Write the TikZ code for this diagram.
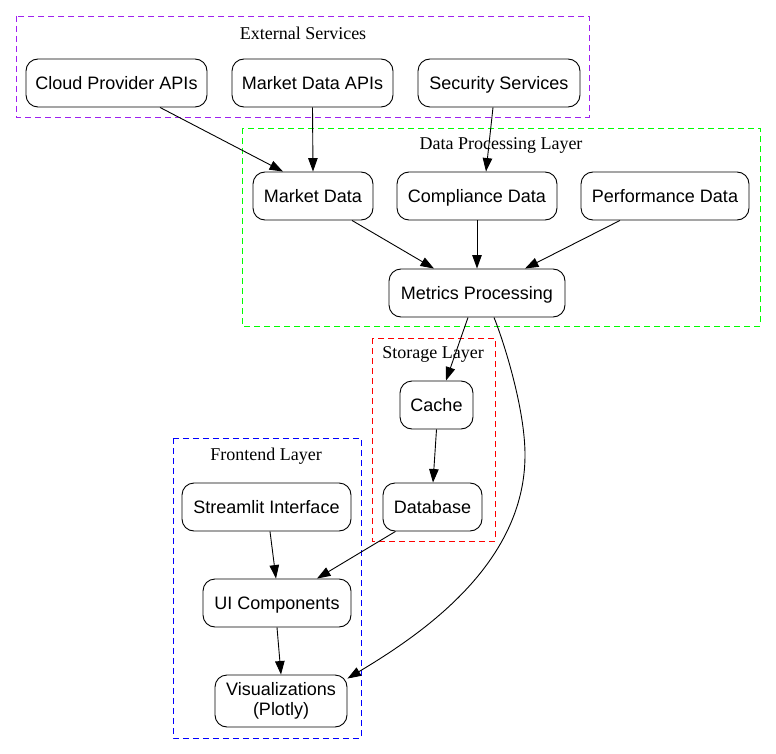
\documentclass[tikz,border=0pt]{standalone}
\usepackage{fontspec}
\setmainfont{Liberation Serif}
\newfontfamily\nodefont{Liberation Sans}
\usetikzlibrary{arrows.meta,calc}
\definecolor{gvpurple}{HTML}{A020F0}
\definecolor{gvgreen}{HTML}{00FF00}
\definecolor{gvred}{HTML}{FF0000}
\definecolor{gvblue}{HTML}{0000FF}
\tikzset{
  box/.style={draw, rounded corners=12pt, minimum height=48pt, inner sep=0pt,
    font=\nodefont\fontsize{18pt}{20pt}\selectfont, align=center, line width=0.9pt},
  oneline/.style={text height=14pt, text depth=1pt},
  cluster/.style={dashed, line width=0.9pt, dash pattern=on 6pt off 4pt},
  clabel/.style={font=\fontsize{18pt}{20pt}\selectfont, inner sep=0pt},
  edge/.style={-{Triangle[length=13.5pt,width=9.5pt]}, line width=0.9pt},
}
\begin{document}
\begin{tikzpicture}[x=1pt,y=-1pt]
\useasboundingbox (0,0) rectangle (776,754);
% clusters
\draw[cluster, gvpurple] (16,16) rectangle (589,117);
\node[clabel] (lext) at (303,33) {External Services};
\draw[cluster, gvgreen] (242,128) rectangle (760,326);
\node[clabel] (ldp) at (501,145) {Data Processing Layer};
\draw[cluster, gvred] (372,338) rectangle (495,541);
\node[clabel] (lst) at (433,354) {Storage Layer};
\draw[cluster, gvblue] (173,438) rectangle (361,738);
\node[clabel] (lfe) at (266,456) {Frontend Layer};
% nodes
\node[box, oneline, minimum width=181pt] (cloud) at (116.5,83) {Cloud Provider APIs};
\node[box, oneline, minimum width=161pt] (mapi) at (312.5,83) {Market Data APIs};
\node[box, oneline, minimum width=162pt] (sec) at (499,83) {Security Services};
\node[box, oneline, minimum width=120pt] (md) at (313,196) {Market Data};
\node[box, oneline, minimum width=160pt] (cd) at (477,196) {Compliance Data};
\node[box, oneline, minimum width=168pt] (pd) at (665,196) {Performance Data};
\node[box, oneline, minimum width=176pt] (mp) at (477,293) {Metrics Processing};
\node[box, oneline, minimum width=73pt] (cache) at (436.5,405) {Cache};
\node[box, oneline, minimum width=99pt] (db) at (432.5,507) {Database};
\node[box, oneline, minimum width=169pt] (st) at (266.5,507) {Streamlit Interface};
\node[box, oneline, minimum width=148pt] (ui) at (277,603) {UI Components};
\node[box, minimum width=132pt, minimum height=52pt] (vis) at (281,701) {Visualizations\\(Plotly)};
% edges
\draw[edge] ($(cloud.south)+(43.5,0)$) -- ($(md.north)+(-30,0)$);
\draw[edge] (mapi.south) -- (md.north);
\draw[edge] ($(sec.south)+(-6,0)$) -- ($(cd.north)+(9,0)$);
\draw[edge] ($(md.south)+(39,0)$) -- ($(mp.north)+(-43,0)$);
\draw[edge] (cd.south) -- (mp.north);
\draw[edge] ($(pd.south)+(-45,0)$) -- ($(mp.north)+(48,0)$);
\draw[edge] ($(mp.south)+(-9,0)$) -- ($(cache.north)+(9.5,0)$);
\draw[edge] ($(mp.south)+(17,0)$) .. controls (505,345) and (525,410) .. (525,455)
  .. controls (525,565) and (420,635) .. ($(vis.north east)+(0,4)$);
\draw[edge] (cache.south) -- ($(db.north)+(0.5,0)$);
\draw[edge] ($(db.south)+(-37,0)$) -- ($(ui.north)+(40,0)$);
\draw[edge] ($(st.south)+(3.5,0)$) -- ($(ui.north)+(-1,0)$);
\draw[edge] (ui.south) -- (vis.north);
\end{tikzpicture}
\end{document}
